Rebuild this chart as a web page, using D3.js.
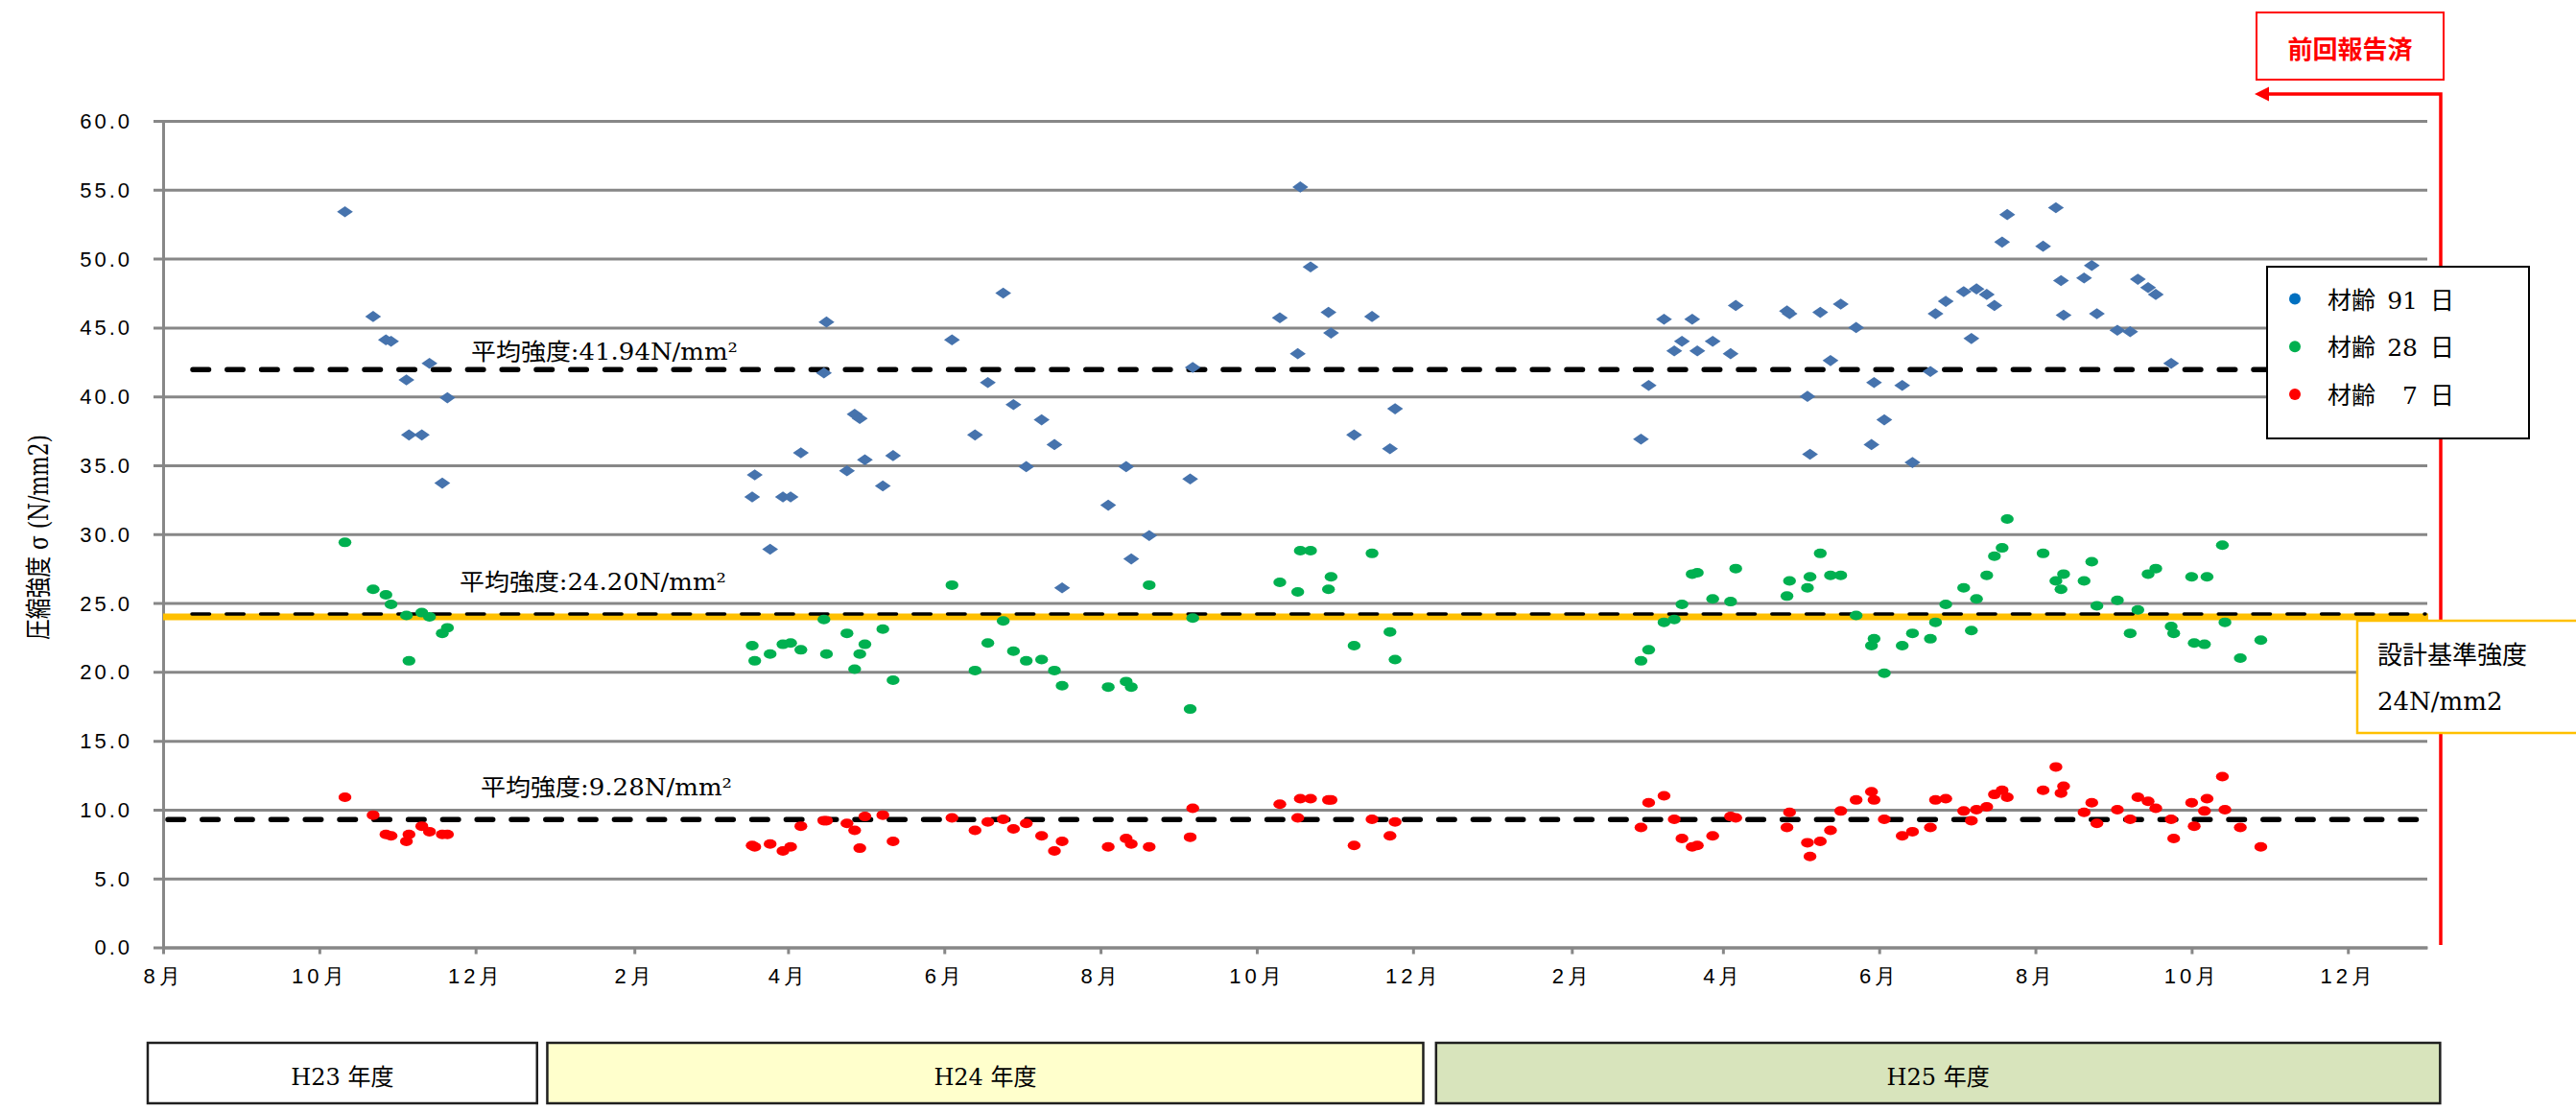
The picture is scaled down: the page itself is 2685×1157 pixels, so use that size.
<!DOCTYPE html>
<meta charset="utf-8">
<style>
body {
  margin: 0;
  background: #fff;
}

svg {
  display: block;
  font-family: "DejaVu Serif", "Noto Sans CJK JP", serif;
  fill: #000;
}

.grid line,
.axis path,
.axis line {
  stroke: #878787;
  stroke-width: 3;
}

.grid path {
  display: none;
}

.axis text {
  font-size: 22px;
  fill: #000;
}

.mean-label {
  font-size: 24px;
}

.year-box {
  stroke: #1f1f1f;
  stroke-width: 2.5;
}

.year-box-label {
  font-size: 24px;
  text-anchor: middle;
}

.legend text {
  font-size: 25px;
}
</style>
<body>
<div id="chart"></div>
<script src="https://cdn.jsdelivr.net/npm/d3@7"></script>
<script>

// sampling dates, one per batch
var sampleDates = [
  "2011-10-11","2011-10-22","2011-10-27","2011-10-29","2011-11-04","2011-11-05","2011-11-10","2011-11-13","2011-11-18","2011-11-20",
  "2012-03-18","2012-03-19","2012-03-25","2012-03-30","2012-04-02","2012-04-06","2012-04-15","2012-04-16","2012-04-24","2012-04-27",
  "2012-04-29","2012-05-01","2012-05-08","2012-05-12","2012-06-04","2012-06-13","2012-06-18","2012-06-24","2012-06-28","2012-07-03",
  "2012-07-09","2012-07-14","2012-07-17","2012-08-04","2012-08-11","2012-08-13","2012-08-20","2012-09-05","2012-09-06","2012-10-10",
  "2012-10-17","2012-10-18","2012-10-22","2012-10-29","2012-10-30","2012-11-08","2012-11-15","2012-11-22","2012-11-24",
  "2013-02-28","2013-03-03","2013-03-09","2013-03-13","2013-03-16","2013-03-20","2013-03-22","2013-03-28","2013-04-04","2013-04-06",
  "2013-04-26","2013-04-27","2013-05-04","2013-05-05","2013-05-09","2013-05-13","2013-05-17","2013-05-23","2013-05-29","2013-05-30",
  "2013-06-03","2013-06-10","2013-06-14","2013-06-21","2013-06-23","2013-06-27","2013-07-04","2013-07-07","2013-07-09","2013-07-13",
  "2013-07-16","2013-07-19","2013-07-21","2013-08-04","2013-08-09","2013-08-11","2013-08-12","2013-08-20","2013-08-23","2013-08-25",
  "2013-09-02","2013-09-07","2013-09-10","2013-09-14","2013-09-17","2013-09-23","2013-09-24","2013-10-01","2013-10-02","2013-10-06",
  "2013-10-07","2013-10-13","2013-10-14","2013-10-20","2013-10-28"
];

// 材齢 91 日
var age91 = [
  53.4, 45.8, 44.1, 44.0, 41.2, 37.2, 37.2, 42.4, 33.7, 39.9,
  32.7, 34.3, 28.9, 32.7, 32.7, 35.9, 41.7, 45.4, 34.6, 38.7,
  38.4, 35.4, 33.5, 35.7, 44.1, 37.2, 41.0, 47.5, 39.4, 34.9,
  38.3, 36.5, 26.1, 32.1, 34.9, 28.2, 29.9, 34.0, 42.1, 45.7,
  43.1, 55.2, 49.4, 46.1, 44.6, 37.2, 45.8, 36.2, 39.1,
  36.9, 40.8, 45.6, 43.3, 44.0, 45.6, 43.3, 44.0, 43.1, 46.6,
  46.2, 46.0, 40.0, 35.8, 46.1, 42.6, 46.7, 45.0, 36.5, 41.0,
  38.3, 40.8, 35.2, 41.8, 46.0, 46.9, 47.6, 44.2, 47.8, 47.4,
  46.6, 51.2, 53.2, 50.9, 53.7, 48.4, 45.9, 48.6, 49.5, 46.0,
  44.8, 44.7, 48.5, 47.9, 47.4, 42.4, null, null, null, null,
  null, null, null, null, null
];

// 材齢 28 日
var age28 = [
  29.4, 26.0, 25.6, 24.9, 24.1, 20.8, 24.3, 24.0, 22.8, 23.2,
  21.9, 20.8, 21.3, 22.0, 22.1, 21.6, 23.8, 21.3, 22.8, 20.2,
  21.3, 22.0, 23.1, 19.4, 26.3, 20.1, 22.1, 23.7, 21.5, 20.8,
  20.9, 20.1, 19.0, 18.9, 19.3, 18.9, 26.3, 17.3, 23.9, 26.5,
  25.8, 28.8, 28.8, 26.0, 26.9, 21.9, 28.6, 22.9, 20.9,
  20.8, 21.6, 23.6, 23.8, 24.9, 27.1, 27.2, 25.3, 25.1, 27.5,
  25.5, 26.6, 26.1, 26.9, 28.6, 27.0, 27.0, 24.1, 21.9, 22.4,
  19.9, 21.9, 22.8, 22.4, 23.6, 24.9, 26.1, 23.0, 25.3, 27.0,
  28.4, 29.0, 31.1, 28.6, 26.6, 26.0, 27.1, 26.6, 28.0, 24.8,
  25.2, 22.8, 24.5, 27.1, 27.5, 23.3, 22.8, 26.9, 22.1, 22.0,
  26.9, 29.2, 23.6, 21.0, 22.3
];

// 材齢 7 日
var age7 = [
  10.9, 9.6, 8.2, 8.1, 7.7, 8.2, 8.8, 8.4, 8.2, 8.2,
  7.4, 7.3, 7.5, 7.0, 7.3, 8.8, 9.2, 9.2, 9.0, 8.5,
  7.2, 9.5, 9.6, 7.7, 9.4, 8.5, 9.1, 9.3, 8.6, 9.0,
  8.1, 7.0, 7.7, 7.3, 7.9, 7.5, 7.3, 8.0, 10.1, 10.4,
  9.4, 10.8, 10.8, 10.7, 10.7, 7.4, 9.3, 8.1, 9.1,
  8.7, 10.5, 11.0, 9.3, 7.9, 7.3, 7.4, 8.1, 9.5, 9.4,
  8.7, 9.8, 7.6, 6.6, 7.7, 8.5, 9.9, 10.7, 11.3, 10.7,
  9.3, 8.1, 8.4, 8.7, 10.7, 10.8, 9.9, 9.2, 10.0, 10.2,
  11.1, 11.4, 10.9, 11.4, 13.1, 11.2, 11.7, 9.8, 10.5, 9.0,
  10.0, 9.3, 10.9, 10.6, 10.1, 9.3, 7.9, 10.5, 8.8, 9.9,
  10.8, 12.4, 10.0, 8.7, 7.3
];

var yTicks = [0, 5, 10, 15, 20, 25, 30, 35, 40, 45, 50, 55, 60];
var monthTicks = [
  "2011-08-01","2011-10-01","2011-12-01","2012-02-01","2012-04-01","2012-06-01","2012-08-01",
  "2012-10-01","2012-12-01","2013-02-01","2013-04-01","2013-06-01","2013-08-01","2013-10-01","2013-12-01"
];

var meanValues = [41.94, 24.20, 9.28];
var meanLabels = ["平均強度:41.94N/mm²", "平均強度:24.20N/mm²", "平均強度:9.28N/mm²"];
var designStrength = 24;

var legendNames = ["材齢", "材齢", "材齢"];
var legendAges = ["91", "28", "7"];

var yearNames = ["H23 年度", "H24 年度", "H25 年度"];
var yearSpans = [["2011-07-26", "2011-12-25"], ["2011-12-29", "2012-12-05"], ["2012-12-10", "2014-01-06"]];
var yearFills = ["#ffffff", "#ffffcc", "#d8e4bc"];

var parseDate = d3.utcParse("%Y-%m-%d");

var width = 2685,
    height = 1157;

var x = d3.scaleUtc()
    .domain([parseDate("2011-08-01"), parseDate("2014-01-01")])
    .range([170, 2530]);

var y = d3.scaleLinear()
    .domain([0, 60])
    .range([987.5, 126]);

var svg = d3.select("#chart").append("svg")
    .attr("width", width)
    .attr("height", height);

// horizontal grid
svg.append("g")
    .attr("class", "grid")
    .attr("transform", "translate(160,0)")
    .call(d3.axisLeft(y).tickValues(yTicks).tickSize(-(2530 - 160)).tickFormat(""));

svg.append("g")
    .attr("class", "y axis")
    .attr("transform", "translate(170,0)")
    .call(d3.axisLeft(y).tickValues(yTicks).tickSize(0).tickSizeOuter(0).tickPadding(32).tickFormat(d3.format(".1f")))
  .selectAll("text")
    .attr("letter-spacing", 3)
    .attr("dy", "0.34em");

svg.append("g")
    .attr("class", "x axis")
    .attr("transform", "translate(0," + y(0) + ")")
    .call(d3.axisBottom(x)
      .tickValues(monthTicks.map(parseDate))
      .tickSize(7)
      .tickSizeOuter(0)
      .tickFormat(function(d) { return (d.getUTCMonth() + 1) + "月"; }))
  .selectAll("text")
    .attr("letter-spacing", 4)
    .attr("y", 37.5)
    .attr("dy", 0);

// y title (the source is stretched sideways, so the glyphs are too)
svg.append("text")
    .attr("transform", "translate(40,560) scale(1.2,1) rotate(-90)")
    .attr("text-anchor", "middle")
    .attr("dy", "0.35em")
    .attr("textLength", 214)
    .attr("lengthAdjust", "spacingAndGlyphs")
    .style("font-size", "23px")
    .text("圧縮強度 σ (N/mm2)");

// design strength line
svg.append("line")
    .attr("x1", 170).attr("x2", 2531)
    .attr("y1", y(designStrength)).attr("y2", y(designStrength))
    .style("stroke", "#ffc000")
    .style("stroke-width", 7);

// average lines
var meanStyle = [
  {x0: 201, w: 5.5, lx: 491, ly: 375, len: 278},
  {x0: 200, w: 3.5, lx: 479, ly: 615, len: 278},
  {x0: 175, w: 5.5, lx: 501, ly: 829, len: 262}
];

meanValues.forEach(function(v, i) {
  var s = meanStyle[i];
  svg.append("line")
      .attr("x1", s.x0).attr("x2", 2528)
      .attr("y1", y(v)).attr("y2", y(v))
      .style("stroke", "#000")
      .style("stroke-width", s.w)
      .style("stroke-linecap", "round")
      .style("stroke-dasharray", (22 - s.w) + "," + (35.8 - 22 + s.w));
  svg.append("text")
      .attr("class", "mean-label")
      .attr("x", s.lx)
      .attr("y", s.ly)
      .attr("textLength", s.len)
      .attr("lengthAdjust", "spacingAndGlyphs")
      .text(meanLabels[i]);
});

// data
function points(values) {
  var out = [];
  values.forEach(function(v, i) {
    if (v != null) out.push({date: parseDate(sampleDates[i]), value: v});
  });
  return out;
}

svg.append("g").selectAll("path")
    .data(points(age91))
  .enter().append("path")
    .attr("d", "M0,-5.8L8.3,0L0,5.8L-8.3,0Z")
    .attr("transform", function(d) { return "translate(" + x(d.date) + "," + y(d.value) + ")"; })
    .style("fill", "#4673ad");

svg.append("g").selectAll("ellipse")
    .data(points(age28))
  .enter().append("ellipse")
    .attr("cx", function(d) { return x(d.date); })
    .attr("cy", function(d) { return y(d.value); })
    .attr("rx", 6.7)
    .attr("ry", 5)
    .style("fill", "#00b050");

svg.append("g").selectAll("ellipse")
    .data(points(age7))
  .enter().append("ellipse")
    .attr("cx", function(d) { return x(d.date); })
    .attr("cy", function(d) { return y(d.value); })
    .attr("rx", 6.7)
    .attr("ry", 5)
    .style("fill", "#ff0000");

// 前回報告済 marker
svg.append("path")
    .attr("d", "M2544,985V98H2363")
    .style("fill", "none")
    .style("stroke", "#ff0000")
    .style("stroke-width", 3.5);

svg.append("path")
    .attr("d", "M2350,98L2365,90.5L2365,105.5Z")
    .style("fill", "#ff0000");

svg.append("rect")
    .attr("x", 2352).attr("y", 13)
    .attr("width", 195).attr("height", 70)
    .style("fill", "#fff")
    .style("stroke", "#ff0000")
    .style("stroke-width", 2);

svg.append("text")
    .attr("x", 2449.5).attr("y", 49)
    .attr("text-anchor", "middle")
    .attr("dominant-baseline", "central")
    .style("font-family", "'Noto Sans CJK JP'")
    .style("font-weight", "bold")
    .style("font-size", "26px")
    .style("fill", "#ff0000")
    .text("前回報告済");

// legend
var legendColors = ["#0070c0", "#00b050", "#ff0000"];

var legend = svg.append("g").attr("class", "legend");

legend.append("rect")
    .attr("x", 2363).attr("y", 278)
    .attr("width", 273).attr("height", 179)
    .style("fill", "#fff")
    .style("stroke", "#000")
    .style("stroke-width", 2);

var item = legend.selectAll(".item")
    .data(legendAges)
  .enter().append("g")
    .attr("class", "item")
    .attr("transform", function(d, i) { return "translate(0," + (311.5 + i * 49.7) + ")"; });

item.append("circle")
    .attr("cx", 2392)
    .attr("r", 6)
    .style("fill", function(d, i) { return legendColors[i]; });

var itemText = item.append("text").attr("y", 10);
itemText.append("tspan").attr("x", 2426).text(function(d, i) { return legendNames[i]; });
itemText.append("tspan").attr("x", 2520).attr("text-anchor", "end").text(function(d) { return d; });
itemText.append("tspan").attr("x", 2533).text("日");

// 設計基準強度 note
svg.append("rect")
    .attr("x", 2457).attr("y", 647)
    .attr("width", 260).attr("height", 117)
    .style("fill", "#fff")
    .style("stroke", "#ffc000")
    .style("stroke-width", 2.5);

svg.append("text")
    .attr("x", 2478).attr("y", 692)
    .style("font-size", "26px")
    .text("設計基準強度");

svg.append("text")
    .attr("x", 2478).attr("y", 740)
    .style("font-size", "26px")
    .text("24N/mm2");

// fiscal year boxes
var years = svg.append("g").selectAll("g")
    .data(yearNames)
  .enter().append("g");

years.append("rect")
    .attr("class", "year-box")
    .attr("x", function(d, i) { return x(parseDate(yearSpans[i][0])); })
    .attr("width", function(d, i) { return x(parseDate(yearSpans[i][1])) - x(parseDate(yearSpans[i][0])); })
    .attr("y", 1087)
    .attr("height", 63)
    .style("fill", function(d, i) { return yearFills[i]; });

years.append("text")
    .attr("class", "year-box-label")
    .attr("x", function(d, i) { return (x(parseDate(yearSpans[i][0])) + x(parseDate(yearSpans[i][1]))) / 2; })
    .attr("y", 1131)
    .text(function(d) { return d; });

</script>
</body>
